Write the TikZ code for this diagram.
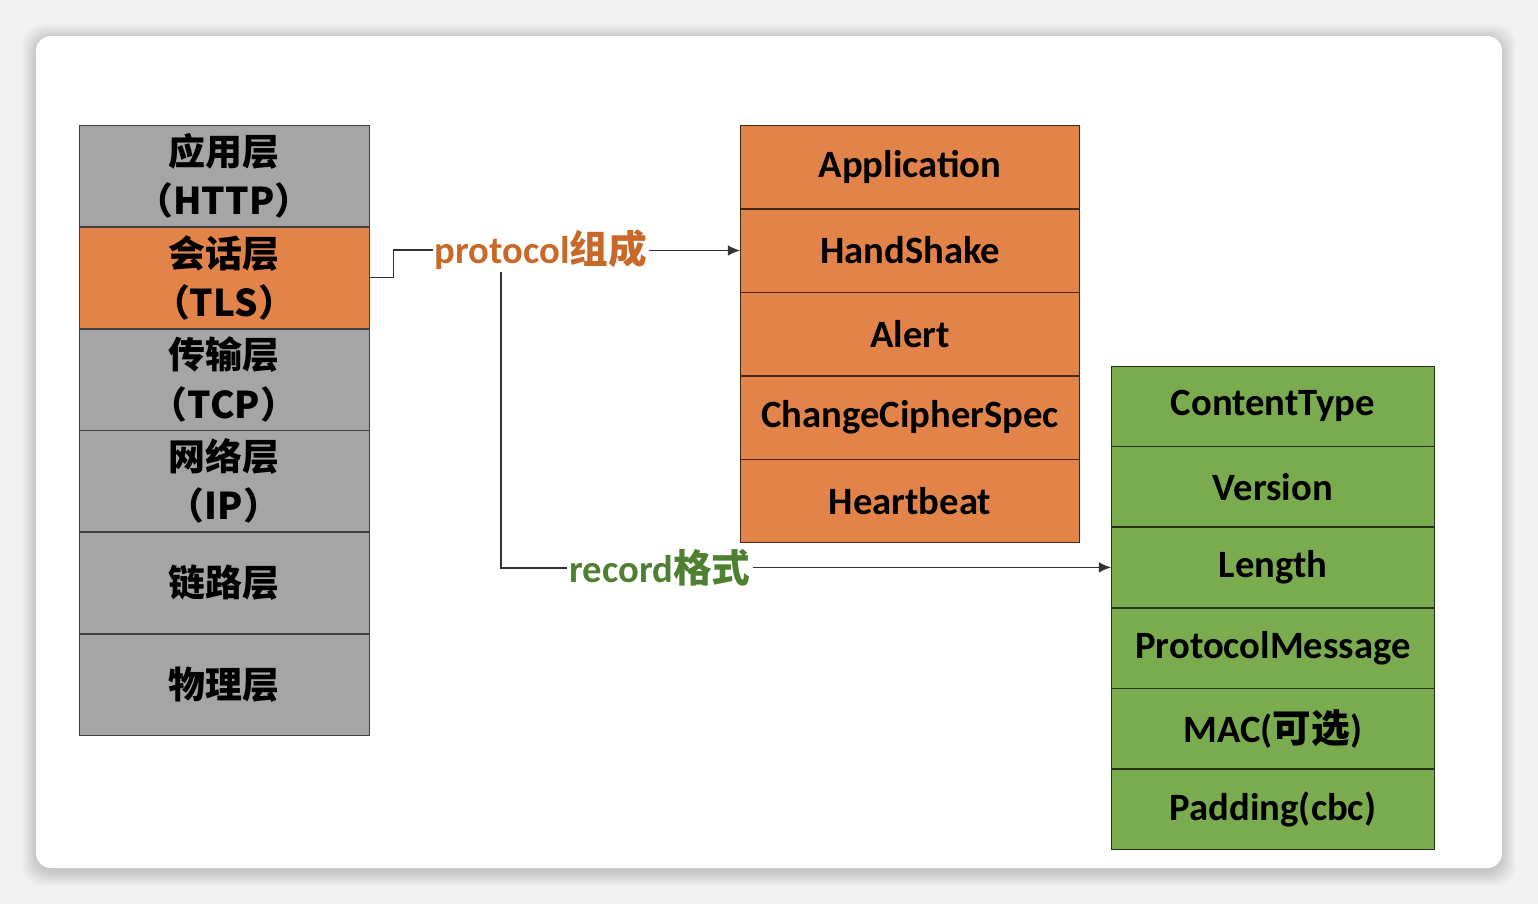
\documentclass[tikz,border=0pt]{standalone}
\usepackage{fontspec}
\setmainfont{Carlito}
\newfontfamily\cjk{Noto Sans CJK SC}
\usetikzlibrary{positioning}
\usetikzlibrary{arrows.meta}
\usetikzlibrary{calc}

\definecolor{layergray}{HTML}{A5A5A5}
\definecolor{tlsorange}{HTML}{E2844A}
\definecolor{recgreen}{HTML}{7BAB4F}
\definecolor{protocolText}{HTML}{C8692A}
\definecolor{recordText}{HTML}{4F7F30}

\begin{document}
\begin{tikzpicture}[x=0.02cm, y=-0.02cm,
    layer/.style={align=center, rectangle, draw=black!75, fill=layergray, minimum width=5.8cm, minimum height=2.02cm, inner sep=0pt, font=\cjk\bfseries\fontsize{21}{28}\selectfont},
    proto/.style={align=center, rectangle, draw=black!70!tlsorange, fill=tlsorange, minimum width=6.78cm, minimum height=1.656cm, inner sep=0pt, font=\bfseries\fontsize{22}{26}\selectfont},
    field/.style={align=center, rectangle, draw=black!70!recgreen, fill=recgreen, minimum width=6.46cm, minimum height=1.6cm, inner sep=0pt, font=\bfseries\fontsize{22}{26}\selectfont},
    tag/.style={inner sep=1pt, font=\bfseries\fontsize{22}{26}\selectfont},
    link/.style={line width=0.8pt, black!80}
]
    \useasboundingbox (0,0) rectangle (1538,904);

    % Card with soft shadow
    \fill[black!5] (0,0) rectangle (1538,904);
    \foreach \s in {1,...,14}
        \fill[black, opacity=0.012, rounded corners=0.4cm] (36-\s,38-\s) rectangle (1502+\s,872+\s);
    \fill[white, rounded corners=0.3cm] (36,36) rectangle (1502,868);

    % Layer stack
    \node[layer] (app) at (224,176) {应用层\\（HTTP）};
    \node[layer, fill=tlsorange] (tls) [below=0pt of app] {会话层\\（TLS）};
    \node[layer] (tcp) [below=0pt of tls] {传输层\\（TCP）};
    \node[layer] (ip) [below=0pt of tcp] {网络层\\（IP）};
    \node[layer] (link) [below=0pt of ip] {链路层};
    \node[layer] (phy) [below=0pt of link] {物理层};

    % Protocol composition
    \node[proto] (appdata) at (910,167) {Application};
    \node[proto] (hs) [below=0pt of appdata] {HandShake};
    \node[proto] (alert) [below=0pt of hs] {Alert};
    \node[proto] (ccs) [below=0pt of alert] {ChangeCipherSpec};
    \node[proto] (hb) [below=0pt of ccs] {Heartbeat};

    % Record format
    \node[field] (ctype) at (1273,406) {ContentType};
    \node[field] (ver) [below=0pt of ctype] {Version};
    \node[field] (len) [below=0pt of ver] {Length};
    \node[field] (msg) [below=0pt of len] {ProtocolMessage};
    \node[field] (mac) [below=0pt of msg] {MAC({\cjk 可选})};
    \node[field] (pad) [below=0pt of mac] {Padding(cbc)};

    % Connectors
    \node[tag, text=protocolText] (plabel) at (541,250) {protocol{\cjk 组成}};
    \node[tag, text=recordText] (rlabel) at (660,568) {record{\cjk 格式}};

    \draw[link] (tls.east) -- ++(24,0) |- (plabel.west);
    \draw[link, -{Latex[length=7pt, width=6pt]}] (plabel.east |- hs.west) -- (hs.west);

    \coordinate (split) at ($(plabel.south west)+(68,0)$);
    \draw[link] (split) |- (rlabel.west);
    \draw[link, -{Latex[length=7pt, width=6pt]}] (rlabel.east |- len.west) -- (len.west);
\end{tikzpicture}
\end{document}
